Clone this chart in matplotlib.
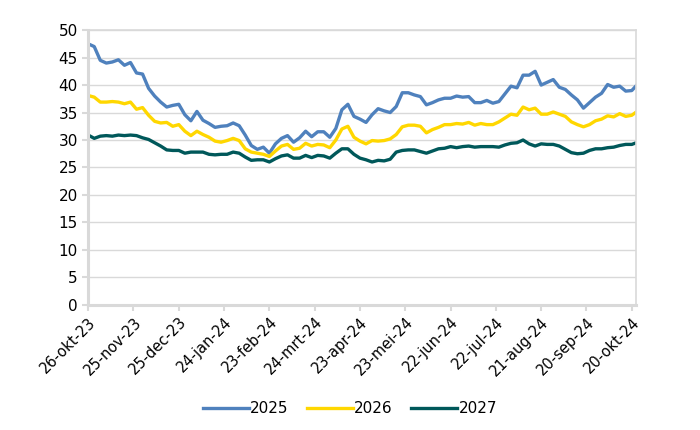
import matplotlib
matplotlib.use("Agg")
import matplotlib.pyplot as plt
import numpy as np
import pandas as pd

#------------------------------------------------------------
# data (one point every 4 days)
dates = pd.date_range("2023-10-26", "2024-10-20", freq="4D").append(
    pd.DatetimeIndex(["2024-10-23"]))

y2025 = [47.5, 47.0, 44.5, 44.0, 44.2, 44.6, 43.6, 44.1, 42.2, 42.0,
         39.4, 38.0, 36.9, 36.0, 36.3, 36.5, 34.6, 33.5, 35.2, 33.6,
         33.0, 32.3, 32.5, 32.6, 33.1, 32.6, 30.9, 29.0, 28.3, 28.7,
         27.6, 29.3, 30.3, 30.8, 29.6, 30.4, 31.6, 30.6, 31.5, 31.5,
         30.5, 32.1, 35.5, 36.5, 34.3, 33.8, 33.2, 34.6, 35.7, 35.3,
         35.0, 36.1, 38.6, 38.6, 38.2, 37.9, 36.4, 36.8, 37.3, 37.6,
         37.6, 38.0, 37.8, 37.9, 36.8, 36.8, 37.2, 36.7, 37.0, 38.4,
         39.8, 39.5, 41.8, 41.8, 42.5, 40.0, 40.5, 41.0, 39.6, 39.2,
         38.2, 37.3, 35.8, 36.8, 37.8, 38.5, 40.1, 39.6, 39.8, 38.9,
         39.0, 39.9]
y2026 = [38.1, 37.8, 36.9, 36.9, 37.0, 36.9, 36.6, 36.9, 35.6, 35.9,
         34.5, 33.4, 33.1, 33.2, 32.5, 32.8, 31.6, 30.8, 31.6, 31.0,
         30.5, 29.8, 29.6, 29.9, 30.3, 29.9, 28.4, 27.8, 27.6, 27.4,
         27.0, 28.0, 28.9, 29.2, 28.3, 28.5, 29.4, 28.9, 29.2, 29.1,
         28.6, 30.0, 32.0, 32.5, 30.5, 29.8, 29.3, 29.9, 29.8, 29.9,
         30.2, 31.0, 32.4, 32.7, 32.7, 32.5, 31.3, 31.9, 32.3, 32.8,
         32.8, 33.0, 32.9, 33.2, 32.7, 33.0, 32.8, 32.8, 33.3, 34.0,
         34.7, 34.5, 36.0, 35.5, 35.8, 34.7, 34.7, 35.1, 34.7, 34.3,
         33.3, 32.8, 32.4, 32.8, 33.5, 33.8, 34.4, 34.2, 34.8, 34.3,
         34.5, 35.1]
y2027 = [30.9, 30.3, 30.7, 30.8, 30.7, 30.9, 30.8, 30.9, 30.8, 30.4,
         30.1, 29.5, 28.9, 28.2, 28.1, 28.1, 27.6, 27.8, 27.8, 27.8,
         27.4, 27.3, 27.4, 27.4, 27.8, 27.6, 26.9, 26.3, 26.4, 26.4,
         26.0, 26.6, 27.1, 27.3, 26.7, 26.7, 27.2, 26.8, 27.2, 27.1,
         26.7, 27.6, 28.4, 28.4, 27.4, 26.7, 26.4, 26.0, 26.3, 26.2,
         26.5, 27.8, 28.1, 28.2, 28.2, 27.9, 27.6, 28.0, 28.4, 28.5,
         28.8, 28.6, 28.8, 28.9, 28.7, 28.8, 28.8, 28.8, 28.7, 29.1,
         29.4, 29.5, 30.0, 29.3, 28.9, 29.3, 29.2, 29.2, 28.9, 28.3,
         27.7, 27.5, 27.6, 28.1, 28.4, 28.4, 28.6, 28.7, 29.0, 29.2,
         29.2, 29.5]

series_names = ["2025", "2026", "2027"]
colors = ["#4f81bd", "#ffd700", "#00585a"]

tick_dates = ["2023-10-26", "2023-11-25", "2023-12-25", "2024-01-24",
              "2024-02-23", "2024-03-24", "2024-04-23", "2024-05-23",
              "2024-06-22", "2024-07-22", "2024-08-21", "2024-09-20",
              "2024-10-20"]
tick_labels = ["26-okt-23", "25-nov-23", "25-dec-23", "24-jan-24",
               "23-feb-24", "24-mrt-24", "23-apr-24", "23-mei-24",
               "22-jun-24", "22-jul-24", "21-aug-24", "20-sep-24",
               "20-okt-24"]

#------------------------------------------------------------
# plot
plt.rcParams["font.family"] = ["DejaVu Sans"]

fig = plt.figure(figsize=(7, 4.3), dpi=100)
ax = fig.add_axes([0.126, 0.291, 0.783, 0.639])

grid_col = "#d9d9d9"
for vals, name, col in zip([y2025, y2026, y2027], series_names, colors):
    ax.plot(dates, vals, color=col, lw=2.4, label=name, solid_joinstyle="round")

ax.set_xlim(pd.Timestamp("2023-10-26"), pd.Timestamp("2024-10-23"))
ax.set_ylim(0, 50)
ax.set_yticks(np.arange(0, 51, 5))
ax.set_xticks(pd.to_datetime(tick_dates))
ax.set_xticklabels(tick_labels, rotation=45, ha="right", rotation_mode="anchor")

ax.grid(axis="y", color=grid_col, lw=1)
ax.set_axisbelow(True)
for side in ["top", "right"]:
    ax.spines[side].set_color(grid_col)
    ax.spines[side].set_linewidth(1.2)
for side in ["left", "bottom"]:
    ax.spines[side].set_color(grid_col)
    ax.spines[side].set_linewidth(2.2)

ax.tick_params(axis="both", colors=grid_col, labelcolor="black", labelsize=11,
               length=4, width=1.5)
ax.tick_params(axis="x", labelsize=10.5, pad=3)

fig.legend(loc="lower center", bbox_to_anchor=(0.5, 0.0), ncol=3,
           frameon=False, fontsize=11, handlelength=3, handletextpad=0.1,
           columnspacing=1.2)

fig.savefig("out.png", dpi=100)
